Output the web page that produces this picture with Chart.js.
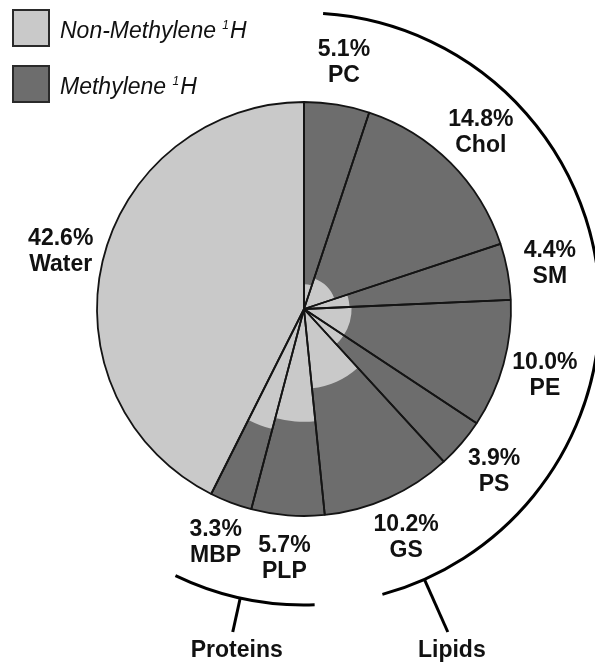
<!DOCTYPE html>
<html>
<head>
<meta charset="utf-8">
<script src="https://cdn.jsdelivr.net/npm/chart.js@4.4.1/dist/chart.umd.min.js"></script>
<style>
  html, body { margin: 0; padding: 0; background: #fff; }
  canvas { display: block; }
</style>
</head>
<body>
<canvas id="chart" width="595" height="664"></canvas>
<script>
// composition, clockwise from 12 o'clock
const categories = ['PC', 'Chol', 'SM', 'PE', 'PS', 'GS', 'PLP', 'MBP', 'Water'];
const shares = [5.1, 14.8, 4.4, 10.0, 3.9, 10.2, 5.7, 3.3, 42.6];
// radial extent of the non-methylene part, % of pie radius
const nonMethylene = [12, 15.5, 22, 23, 23, 38.5, 54.5, 60, 100];
const fullSlice = [100, 100, 100, 100, 100, 100, 100, 100, 100];
const groupOf = ['Lipids', 'Lipids', 'Lipids', 'Lipids', 'Lipids', 'Lipids', 'Proteins', 'Proteins', null];
const groupNames = ['Lipids', 'Proteins'];
const legendLabels = ['Non-Methylene', 'Methylene'];

const LIGHT = '#c9c9c9';
const DARK = '#6d6d6d';
const EDGE = '#141414';
const FONT = '"Liberation Sans", Arial, Helvetica, sans-serif';

// bracket geometry (degrees): inset at both ends, tick offset from group start
const bracketStyle = {
  Lipids:   { inStart: 3.7, inEnd: 9.6, tick: 156 },
  Proteins: { inStart: 3.7, inEnd: 0.9, tick: 18.2 },
};

const deg = Math.PI / 180;

const annotatePlugin = {
  id: 'annotate',
  afterDraw(chart) {
    const ctx = chart.ctx;
    const arcs = chart.getDatasetMeta(0).data;
    const cx = arcs[0].x, cy = arcs[0].y, R = arcs[0].outerRadius;
    ctx.save();

    // slice labels
    ctx.fillStyle = '#111';
    ctx.font = `bold 23px ${FONT}`;
    ctx.textAlign = 'center';
    ctx.textBaseline = 'middle';
    arcs.forEach((arc, i) => {
      const mid = (arc.startAngle + arc.endAngle) / 2;
      const x = cx + Math.cos(mid) * (R + 43);
      const y = cy + Math.sin(mid) * (R + 43);
      ctx.fillText(shares[i].toFixed(1) + '%', x, y - 13);
      ctx.fillText(categories[i], x, y + 13);
    });

    // group brackets
    ctx.strokeStyle = '#000';
    ctx.lineWidth = 3;
    ctx.lineCap = 'butt';
    const rb = R + 89;
    groupNames.forEach(name => {
      const idx = groupOf.map((g, i) => g === name ? i : -1).filter(i => i >= 0);
      const st = bracketStyle[name];
      const a0 = arcs[idx[0]].startAngle;
      const a1 = arcs[idx[idx.length - 1]].endAngle;
      ctx.beginPath();
      ctx.arc(cx, cy, rb, a0 + st.inStart * deg, a1 - st.inEnd * deg);
      ctx.stroke();

      const at = a0 + st.tick * deg;
      const yEnd = cy + R + 116;
      const rEnd = (yEnd - cy) / Math.sin(at);
      const xEnd = cx + Math.cos(at) * rEnd;
      ctx.beginPath();
      ctx.moveTo(cx + Math.cos(at) * rb, cy + Math.sin(at) * rb);
      ctx.lineTo(xEnd, yEnd);
      ctx.stroke();
      ctx.fillText(name, xEnd + 4, cy + R + 135);
    });

    // legend
    const fills = [LIGHT, DARK];
    legendLabels.forEach((lab, i) => {
      const y = 10 + i * 56;
      ctx.fillStyle = fills[i];
      ctx.fillRect(13, y, 36, 36);
      ctx.strokeStyle = '#2a2a2a';
      ctx.lineWidth = 2;
      ctx.strokeRect(13, y, 36, 36);
      ctx.fillStyle = '#111';
      ctx.textAlign = 'left';
      ctx.textBaseline = 'alphabetic';
      ctx.font = `italic 23px ${FONT}`;
      const base = y + 28;
      const txt = lab + ' ';
      ctx.fillText(txt, 60, base);
      let x = 60 + ctx.measureText(txt).width;
      ctx.font = `italic 12px ${FONT}`;
      ctx.fillText('1', x, base - 9);
      x += ctx.measureText('1').width + 1;
      ctx.font = `italic 23px ${FONT}`;
      ctx.fillText('H', x, base);
    });

    ctx.restore();
  }
};

const sliceAngle = c => shares[c.dataIndex] * 3.6;

new Chart(document.getElementById('chart'), {
  type: 'polarArea',
  data: {
    labels: categories,
    datasets: [
      { label: 'outline', data: fullSlice, angle: sliceAngle,
        backgroundColor: 'rgba(0,0,0,0)', borderColor: EDGE, borderWidth: 1.8, order: 0 },
      { label: 'Non-Methylene', data: nonMethylene, angle: sliceAngle,
        backgroundColor: LIGHT, borderWidth: 0, order: 1 },
      { label: 'Methylene', data: fullSlice, angle: sliceAngle,
        backgroundColor: DARK, borderWidth: 0, order: 2 },
    ]
  },
  options: {
    responsive: false,
    animation: false,
    layout: { padding: { left: 97, top: 102, right: 84, bottom: 148 } },
    scales: { r: { display: false, min: 0, max: 100, startAngle: 0 } },
    plugins: { legend: { display: false }, tooltip: { enabled: false } },
  },
  plugins: [annotatePlugin]
});
</script>
</body>
</html>
